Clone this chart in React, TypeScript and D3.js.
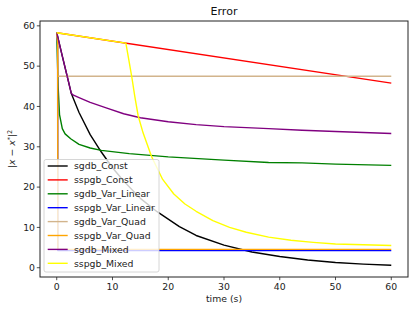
import React from "react";
import * as d3 from "d3";

// time stamps and error values per method
const tConst = [0, 1, 2, 2.6, 4, 6, 8, 10, 12, 15, 18, 22, 25, 30, 35, 40, 45, 50, 55, 60];
const sgdbConst = [58.3, 52.5, 46.8, 43.3, 38.5, 33, 28.7, 24.8, 21.5, 17.2, 13.9, 10.2, 8.0, 5.6, 3.9, 2.8, 1.9, 1.3, 0.9, 0.6];

const tLine = [0, 60];
const sspgbConst = [58.3, 45.8];

const tVarLin = [0, 0.25, 0.5, 1, 1.5, 2.5, 4, 6, 8, 13, 20, 30, 38, 44, 50, 60];
const sgdbVarLinear = [58.3, 45, 38, 34.5, 33.2, 32, 30.6, 29.7, 29.1, 28.3, 27.5, 26.7, 26.1, 26.0, 25.7, 25.4];

const tDrop = [0, 0.16, 0.19, 60];
const sspgbVarLinear = [58.3, 56, 4.25, 4.25];

const tQuad = [0, 0.17, 0.2, 60];
const sgdbVarQuad = [58.3, 56, 47.5, 47.5];
const sspgbVarQuad = [58.3, 56, 4.55, 4.55];

const tMixed = [0, 1, 2, 2.6, 3, 4, 6, 9, 12, 15, 20, 25, 30, 38, 44, 50, 60];
const sgdbMixed = [58.3, 52.5, 46.8, 43.3, 42.8, 42.2, 41.0, 39.6, 38.2, 37.2, 36.2, 35.5, 35.0, 34.5, 34.1, 33.8, 33.3];

const tSspMixed = [0, 12.4, 13, 13.5, 14, 14.6, 15.5, 17, 19, 21, 23, 25, 28, 31, 34, 38, 42, 46, 50, 55, 60];
const sspgbMixed = [58.3, 55.7, 51, 47, 42.5, 37.7, 33.4, 27.6, 21.9, 18.3, 15.8, 14.0, 11.7, 10.0, 8.8, 7.6, 6.8, 6.3, 5.9, 5.7, 5.5];

const series = [
  {name: "sgdb_Const", t: tConst, v: sgdbConst, color: "black"},
  {name: "sspgb_Const", t: tLine, v: sspgbConst, color: "red"},
  {name: "sgdb_Var_Linear", t: tVarLin, v: sgdbVarLinear, color: "green"},
  {name: "sspgb_Var_Linear", t: tDrop, v: sspgbVarLinear, color: "blue"},
  {name: "sgdb_Var_Quad", t: tQuad, v: sgdbVarQuad, color: "tan"},
  {name: "sspgb_Var_Quad", t: tQuad, v: sspgbVarQuad, color: "orange"},
  {name: "sgdb_Mixed", t: tMixed, v: sgdbMixed, color: "purple"},
  {name: "sspgb_Mixed", t: tSspMixed, v: sspgbMixed, color: "yellow"},
];

const xTicks = [0, 10, 20, 30, 40, 50, 60];
const yTicks = [0, 10, 20, 30, 40, 50, 60];

const W = 415;
const H = 311;
const plot = {left: 40, right: 408, top: 21, bottom: 277};
const font = "DejaVu Sans, sans-serif";
const fs = 9.3;

export default function App() {
  const x = d3.scaleLinear().domain([-3, 63]).range([plot.left, plot.right]);
  const y = d3.scaleLinear().domain([-2.3, 61.2]).range([plot.bottom, plot.top]);

  const line = d3
    .line<[number, number]>()
    .x((d) => x(d[0]))
    .y((d) => y(d[1]));

  const legend = {x: 44, y: 159.5, w: 115, h: 112.5, row: 13.9};

  return (
    <svg width={W} height={H} style={{position: "absolute", left: 0, top: 0, background: "white"}} fontFamily={font}>
      <defs>
        <clipPath id="plotClip">
          <rect x={plot.left} y={plot.top} width={plot.right - plot.left} height={plot.bottom - plot.top}/>
        </clipPath>
      </defs>

      <g clipPath="url(#plotClip)">
        {series.map((s) => (
          <path
            key={s.name}
            d={line(s.t.map((t, i) => [t, s.v[i]] as [number, number])) || ""}
            fill="none"
            stroke={s.color}
            strokeWidth={1.4}
            strokeLinejoin="round"
          />
        ))}
      </g>

      {/* frame */}
      <rect x={plot.left} y={plot.top} width={plot.right - plot.left} height={plot.bottom - plot.top}
            fill="none" stroke="#222" strokeWidth={1}/>

      {/* x axis */}
      {xTicks.map((t) => (
        <g key={"x" + t}>
          <line x1={x(t)} x2={x(t)} y1={plot.bottom} y2={plot.bottom + 3.2} stroke="#222" strokeWidth={0.8}/>
          <text x={x(t)} y={plot.bottom + 13} fontSize={fs} textAnchor="middle" fill="#222">{t}</text>
        </g>
      ))}
      <text x={(plot.left + plot.right) / 2} y={302} fontSize={fs} textAnchor="middle" fill="#222">time (s)</text>

      {/* y axis */}
      {yTicks.map((t) => (
        <g key={"y" + t}>
          <line x1={plot.left - 3.2} x2={plot.left} y1={y(t)} y2={y(t)} stroke="#222" strokeWidth={0.8}/>
          <text x={plot.left - 5} y={y(t)} dy="0.35em" fontSize={fs} textAnchor="end" fill="#222">{t}</text>
        </g>
      ))}
      <text transform={`translate(15,${(plot.top + plot.bottom) / 2}) rotate(-90)`} fontSize={fs}
            textAnchor="middle" fill="#222">
        <tspan>|</tspan>
        <tspan fontStyle="italic">x</tspan>
        <tspan> − </tspan>
        <tspan fontStyle="italic">x</tspan>
        <tspan fontSize={6.5} dy={-3.5}>*</tspan>
        <tspan dy={3.5}>|</tspan>
        <tspan fontSize={6.5} dy={-3.5}>2</tspan>
      </text>

      {/* title */}
      <text x={(plot.left + plot.right) / 2} y={15} fontSize={11} textAnchor="middle" fill="#111">Error</text>

      {/* legend */}
      <rect x={legend.x} y={legend.y} width={legend.w} height={legend.h} rx={2}
            fill="white" fillOpacity={0.8} stroke="#ccc" strokeWidth={0.8}/>
      {series.map((s, i) => {
        const cy = legend.y + 6.5 + i * legend.row;
        return (
          <g key={"lg" + s.name}>
            <line x1={47.7} x2={67.7} y1={cy} y2={cy} stroke={s.color} strokeWidth={1.4}/>
            <text x={74} y={cy} dy="0.35em" fontSize={fs} fill="#222">{s.name}</text>
          </g>
        );
      })}
    </svg>
  );
}
